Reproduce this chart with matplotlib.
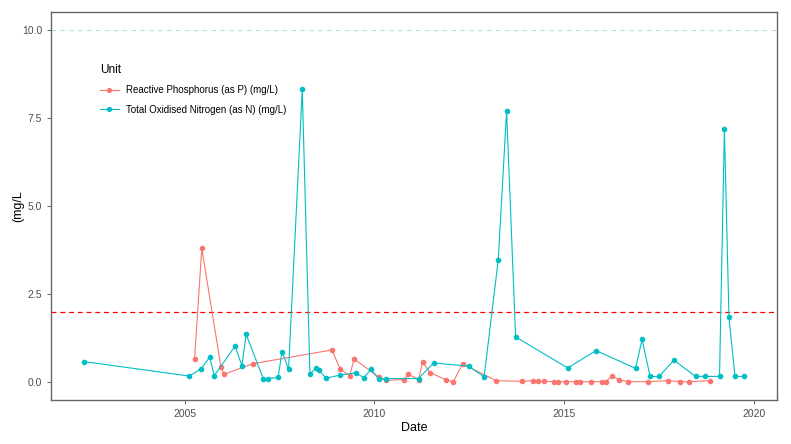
import matplotlib
matplotlib.use('Agg')
import matplotlib.pyplot as plt
import matplotlib.dates as mdates
import numpy as np
import pandas as pd

plt.rcParams['font.family'] = ['Liberation Sans', 'DejaVu Sans']

# Total Oxidised Nitrogen (as N)
ton_dates = ['2002-05-08', '2005-02-14', '2005-06-10', '2005-08-29', '2005-10-12',
             '2006-05-01', '2006-07-05', '2006-08-15', '2007-01-26', '2007-03-15',
             '2007-06-18', '2007-07-27', '2007-09-27', '2008-02-06', '2008-04-20',
             '2008-06-21', '2008-07-16', '2008-09-20', '2009-02-06', '2009-07-09',
             '2009-09-20', '2009-11-28', '2010-02-14', '2010-04-20', '2011-03-01',
             '2011-07-24', '2012-06-24', '2012-11-21', '2013-04-06', '2013-06-25',
             '2013-09-20', '2015-02-03', '2015-11-03', '2016-11-17', '2017-01-19',
             '2017-04-06', '2017-07-02', '2017-11-21', '2018-06-18', '2018-09-20',
             '2019-02-03', '2019-03-22', '2019-05-05', '2019-07-02', '2019-09-28']
ton_vals = [0.59, 0.18, 0.39, 0.72, 0.19, 1.03, 0.47, 1.36, 0.11, 0.11,
            0.14, 0.87, 0.37, 8.31, 0.23, 0.42, 0.35, 0.12, 0.21, 0.27,
            0.13, 0.37, 0.09, 0.11, 0.11, 0.55, 0.46, 0.16, 3.48, 7.69,
            1.29, 0.41, 0.90, 0.40, 1.22, 0.17, 0.17, 0.63, 0.17, 0.17,
            0.17, 7.17, 1.84, 0.17, 0.17]

# Reactive Phosphorus (as P)
rp_dates = ['2005-04-06', '2005-06-14', '2005-12-16', '2006-01-15', '2006-10-19',
            '2008-11-17', '2009-02-06', '2009-05-08', '2009-06-18', '2010-02-14',
            '2010-04-23', '2010-10-12', '2010-11-24', '2011-03-01', '2011-04-08',
            '2011-06-20', '2011-11-21', '2012-01-30', '2012-04-27', '2013-03-15',
            '2013-11-21', '2014-03-03', '2014-04-27', '2014-06-24', '2014-09-20',
            '2014-11-06', '2015-01-15', '2015-04-20', '2015-06-03', '2015-09-16',
            '2016-01-01', '2016-02-03', '2016-04-08', '2016-06-10', '2016-09-09',
            '2017-03-18', '2017-09-27', '2018-01-19', '2018-04-16', '2018-11-06']
rp_vals = [0.67, 3.80, 0.43, 0.23, 0.53, 0.92, 0.37, 0.19, 0.67, 0.14,
           0.06, 0.08, 0.23, 0.08, 0.58, 0.28, 0.07, 0.02, 0.53, 0.05,
           0.03, 0.05, 0.03, 0.03, 0.02, 0.02, 0.02, 0.02, 0.02, 0.02,
           0.02, 0.02, 0.19, 0.07, 0.02, 0.02, 0.05, 0.02, 0.02, 0.05]

labels = ['Reactive Phosphorus (as P) (mg/L)', 'Total Oxidised Nitrogen (as N) (mg/L)']
colors = ['#F8766D', '#00BFC4']
guideline = 2.0
upper_line = 10.0
year_ticks = [2005, 2010, 2015, 2020]

fig = plt.figure(figsize=(7.91, 4.44), dpi=100)
ax = fig.add_axes([0.0645, 0.099, 0.918, 0.874])

rp_x = pd.to_datetime(rp_dates)
ton_x = pd.to_datetime(ton_dates)

ax.axhline(upper_line, color='#B7DCEA', lw=0.8, ls=(0, (4, 4)), zorder=1)
ax.axhline(guideline, color='#FF0000', lw=0.9, ls=(0, (4, 3)), zorder=1)

ax.plot(rp_x, rp_vals, color=colors[0], lw=0.8, marker='o', ms=3.0,
        label=labels[0], zorder=3)
ax.plot(ton_x, ton_vals, color=colors[1], lw=0.8, marker='o', ms=3.0,
        label=labels[1], zorder=3)

# ggplot-like 5% expansion
allx = mdates.date2num(list(rp_x) + list(ton_x))
span = allx.max() - allx.min()
ax.set_xlim(allx.min() - 0.05 * span, allx.max() + 0.05 * span)
ax.set_ylim(-0.5, 10.5)

ax.set_xticks([mdates.date2num(pd.Timestamp(f'{y}-01-01')) for y in year_ticks])
ax.set_xticklabels([str(y) for y in year_ticks])
ax.set_yticks([0, 2.5, 5, 7.5, 10])
ax.set_yticklabels(['0.0', '2.5', '5.0', '7.5', '10.0'])

ax.tick_params(axis='both', labelsize=7.5, colors='#4D4D4D', length=3, width=0.6,
               labelcolor='#4D4D4D')
for s in ax.spines.values():
    s.set_color('#666666')
    s.set_linewidth(1.0)

ax.set_xlabel('Date', fontsize=9, color='black', labelpad=2)
ax.set_ylabel('(mg/L', fontsize=9, color='black', labelpad=-2)

leg = ax.legend(loc='upper left', bbox_to_anchor=(0.055, 0.888), title='Unit',
                frameon=False, fontsize=7, title_fontsize=8.5, handlelength=2.0,
                labelspacing=0.95, alignment='left', handletextpad=0.7,
                markerscale=0.9)

fig.savefig('out.png', dpi=100)
